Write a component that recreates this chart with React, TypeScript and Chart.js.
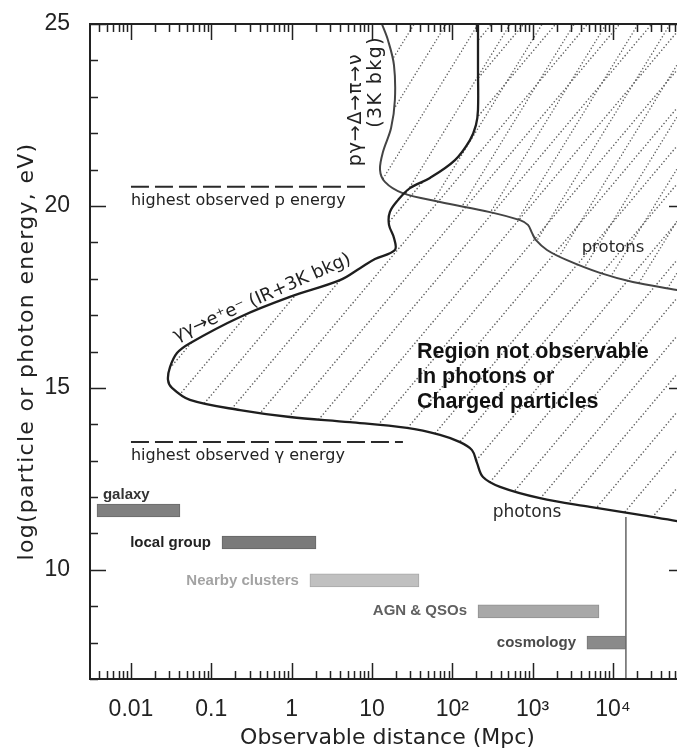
import { useEffect, useRef } from 'react';
import { Chart, registerables } from 'chart.js';

Chart.register(...registerables);

// ---------- axes ----------
const X_MIN = 0.00309;
const X_MAX = 78900;
const Y_MIN = 7;
const Y_MAX = 25;
const X_TICKS = [0.01, 0.1, 1, 10, 100, 1000, 10000];
const X_TICK_LABELS = ['0.01', '0.1', '1', '10', '10²', '10³', '10⁴'];
const Y_TICKS = [10, 15, 20, 25];
const X_TITLE = 'Observable distance (Mpc)';
const Y_TITLE = 'log(particle or photon energy, eV)';

// ---------- γγ → e+e− horizon (photons) ----------
const PHOTON_X = [209, 209, 209, 197, 166, 108, 52.7, 29.7, 21.1, 16.7, 16.3, 18.8, 19.3, 10.9, 7.1, 4.0, 0.95, 0.228, 0.0542, 0.0374, 0.0306, 0.0289, 0.0324, 0.0542, 0.228, 0.953, 5.32, 27.3, 70.3, 125, 176, 203, 241, 393, 1236, 5180, 21700, 62700, 78900];
const PHOTON_Y = [25, 23.74, 22.64, 22.22, 21.81, 21.26, 20.77, 20.49, 20.16, 19.83, 19.48, 19.12, 18.79, 18.54, 18.29, 17.96, 17.5, 16.95, 16.23, 15.96, 15.57, 15.22, 15.0, 14.67, 14.39, 14.2, 14.06, 13.9, 13.71, 13.51, 13.29, 12.94, 12.55, 12.28, 11.97, 11.73, 11.51, 11.34, 11.32];

// ---------- pγ → Δ → π → ν horizon (protons) ----------
const PROTON_X = [13.3, 15.8, 18.8, 19.3, 17.3, 13.7, 12.6, 14.5, 23.7, 70.3, 294, 697, 875, 982, 1102, 1510, 2680, 6890, 17700, 62700, 78900];
const PROTON_Y = [25, 24.56, 23.87, 22.91, 22.14, 21.48, 20.99, 20.66, 20.36, 20.11, 19.83, 19.61, 19.48, 19.26, 19.06, 18.79, 18.51, 18.16, 17.91, 17.69, 17.64];

// ---------- highest observed energies ----------
const P_MAX_X = [0.01, 8.2];
const P_MAX_Y = 20.53;
const G_MAX_X = [0.01, 24.3];
const G_MAX_Y = 13.51;

// ---------- Hubble distance marker ----------
const HUBBLE_X = 14500;
const HUBBLE_Y = [7, 11.45];

// ---------- distance ranges ----------
const BAR_NAMES = ['galaxy', 'local group', 'Nearby clusters', 'AGN & QSOs', 'cosmology'];
const BAR_START = [0.00378, 0.136, 1.69, 209, 4750];
const BAR_END = [0.0407, 2.01, 38.5, 6700, 14500];
const BAR_Y = [11.63, 10.75, 9.71, 8.86, 8.0];
const BAR_COLORS = ['#808080', '#7a7a7a', '#c0c0c0', '#a8a8a8', '#8a8a8a'];
const BAR_EDGES = ['#6a6a6a', '#666666', '#a8a8a8', '#909090', '#767676'];
const BAR_LABEL_COLORS = ['#333333', '#222222', '#a3a3a3', '#606060', '#4a4a4a'];
const GALAXY_LABEL_X = 0.00448;
const GALAXY_LABEL_Y = 12.06;

// ---------- annotations ----------
const NOTE_TEXT = ['highest observed p energy', 'highest observed γ energy', 'protons', 'photons', 'pγ→Δ→π→ν', '(3K bkg)', 'γγ→e⁺e⁻ (IR+3K bkg)'];
const NOTE_X = [0.01, 0.01, 10000, 851, 6.3, 11.2, 0.428];
const NOTE_Y = [20.14, 13.13, 18.86, 11.56, 22.64, 23.41, 17.48];
const REGION_LINES = ['Region not observable', 'In photons or', 'Charged particles'];
const REGION_X = 36.3;
const REGION_Y = 15.99;

const DJ = '"DejaVu Sans", sans-serif';
const LIB = '"Liberation Sans", Arial, sans-serif';

function makeHatch(w: number, h: number, n: number, color: string, shift: number) {
  const c = document.createElement('canvas');
  c.width = w;
  c.height = h;
  const g = c.getContext('2d')!;
  g.fillStyle = color;
  for (let i = 0; i < n; i++) {
    const t = (i + shift) / n;
    const x = t * w;
    const y = h - t * h;
    g.beginPath();
    g.arc(x, y, 0.8, 0, Math.PI * 2);
    g.fill();
  }
  return c;
}

function tracePts(ctx: CanvasRenderingContext2D, pts: any[]) {
  ctx.moveTo(pts[0].x, pts[0].y);
  for (let i = 1; i < pts.length; i++) {
    const p = pts[i - 1];
    const q = pts[i];
    if (p.cp2x !== undefined && q.cp1x !== undefined) {
      ctx.bezierCurveTo(p.cp2x, p.cp2y, q.cp1x, q.cp1y, q.x, q.y);
    } else {
      ctx.lineTo(q.x, q.y);
    }
  }
}

function drawText(
  ctx: CanvasRenderingContext2D,
  text: string,
  x: number,
  y: number,
  font: string,
  color: string,
  align: CanvasTextAlign = 'left',
  rot = 0,
  spacing = 0
) {
  ctx.save();
  ctx.translate(x, y);
  if (rot) ctx.rotate(rot);
  ctx.font = font;
  ctx.fillStyle = color;
  ctx.textAlign = align;
  ctx.textBaseline = 'middle';
  (ctx as any).letterSpacing = spacing + 'px';
  ctx.fillText(text, 0, 0);
  ctx.restore();
}

const hatchPlugin = {
  id: 'hatch',
  beforeDatasetsDraw(chart: any) {
    const ctx: CanvasRenderingContext2D = chart.ctx;
    const a = chart.chartArea;
    const specs = [
      { idx: 0, tile: makeHatch(32, 38, 14, '#555555', 0.5) },
      { idx: 1, tile: makeHatch(32, 52, 18, '#666666', 0.25) },
    ];
    ctx.save();
    ctx.beginPath();
    ctx.rect(a.left, a.top, a.right - a.left, a.bottom - a.top);
    ctx.clip();
    for (const s of specs) {
      const pts = chart.getDatasetMeta(s.idx).data;
      if (!pts || pts.length < 2) continue;
      const pat = ctx.createPattern(s.tile, 'repeat');
      if (!pat) continue;
      if (s.idx === 1 && (pat as any).setTransform) {
        (pat as any).setTransform(new DOMMatrix().translate(13, 0));
      }
      ctx.beginPath();
      tracePts(ctx, pts);
      const first = pts[0];
      const last = pts[pts.length - 1];
      ctx.lineTo(a.right + 30, last.y);
      ctx.lineTo(a.right + 30, a.top - 30);
      ctx.lineTo(first.x, a.top - 30);
      ctx.closePath();
      ctx.fillStyle = pat;
      ctx.fill();
    }
    ctx.restore();
  },
};

const textPlugin = {
  id: 'texts',
  afterDatasetsDraw(chart: any) {
    const ctx: CanvasRenderingContext2D = chart.ctx;
    const xs = chart.scales.x;
    const ys = chart.scales.y;
    const px = (v: number) => xs.getPixelForValue(v);
    const py = (v: number) => ys.getPixelForValue(v);

    drawText(ctx, NOTE_TEXT[0], px(NOTE_X[0]), py(NOTE_Y[0]), `16px ${DJ}`, '#222');
    drawText(ctx, NOTE_TEXT[1], px(NOTE_X[1]), py(NOTE_Y[1]), `16px ${DJ}`, '#222');
    drawText(ctx, NOTE_TEXT[2], px(NOTE_X[2]), py(NOTE_Y[2]), `16.5px ${DJ}`, '#2a2a2a', 'center');
    drawText(ctx, NOTE_TEXT[3], px(NOTE_X[3]), py(NOTE_Y[3]), `17px ${DJ}`, '#2a2a2a', 'center');
    drawText(ctx, NOTE_TEXT[4], px(NOTE_X[4]), py(NOTE_Y[4]), `19px ${DJ}`, '#222', 'center', -Math.PI / 2, 0.8);
    drawText(ctx, NOTE_TEXT[5], px(NOTE_X[5]), py(NOTE_Y[5]), `19px ${DJ}`, '#222', 'center', -Math.PI / 2, 1.4);
    drawText(ctx, NOTE_TEXT[6], px(NOTE_X[6]), py(NOTE_Y[6]), `18px ${DJ}`, '#222', 'center', (-24 * Math.PI) / 180);

    REGION_LINES.forEach((t, i) => {
      drawText(ctx, t, px(REGION_X), py(REGION_Y) + i * 25, `bold 21.5px ${LIB}`, '#111');
    });

    drawText(ctx, BAR_NAMES[0], px(GALAXY_LABEL_X), py(GALAXY_LABEL_Y), `bold 15px ${LIB}`, BAR_LABEL_COLORS[0]);
    for (let i = 1; i < BAR_NAMES.length; i++) {
      drawText(ctx, BAR_NAMES[i], px(BAR_START[i]) - 11, py(BAR_Y[i]), `bold 15px ${LIB}`, BAR_LABEL_COLORS[i], 'right');
    }
  },
};

const framePlugin = {
  id: 'frame',
  afterDraw(chart: any) {
    const ctx: CanvasRenderingContext2D = chart.ctx;
    const xs = chart.scales.x;
    const ys = chart.scales.y;
    const { left, right, top, bottom } = chart.chartArea;
    ctx.save();
    ctx.strokeStyle = '#222';
    ctx.lineWidth = 1.5;
    ctx.beginPath();
    for (let d = -3; d <= 5; d++) {
      for (let k = 1; k <= 9; k++) {
        const v = k * Math.pow(10, d);
        if (v < X_MIN || v > X_MAX) continue;
        const x = Math.round(xs.getPixelForValue(v)) + 0.5;
        const len = k === 1 ? 16 : 8;
        ctx.moveTo(x, bottom);
        ctx.lineTo(x, bottom - len);
        ctx.moveTo(x, top);
        ctx.lineTo(x, top + len);
      }
    }
    for (let v = Y_MIN; v <= Y_MAX; v++) {
      const y = Math.round(ys.getPixelForValue(v)) + 0.5;
      const len = v % 5 === 0 ? 16 : 8;
      ctx.moveTo(left, y);
      ctx.lineTo(left + len, y);
      ctx.moveTo(right, y);
      ctx.lineTo(right - len, y);
    }
    ctx.stroke();
    ctx.lineWidth = 2;
    ctx.strokeRect(left, top, right - left, bottom - top);
    ctx.restore();

    drawText(ctx, Y_TITLE, 27, (top + bottom) / 2, `22px ${DJ}`, '#222', 'center', -Math.PI / 2, 1.3);
  },
};

export default function App() {
  const ref = useRef<HTMLCanvasElement>(null);

  useEffect(() => {
    if (!ref.current) return;
    const line = (xs: number[], ys: number[], color: string, width: number, tension: number, dash: number[] = []) => ({
      type: 'line' as const,
      data: xs.map((x, i) => ({ x, y: ys[i] })),
      borderColor: color,
      borderWidth: width,
      borderDash: dash,
      pointRadius: 0,
      tension,
      fill: false,
    });

    const chart = new Chart(ref.current, {
      type: 'line',
      data: {
        datasets: [
          line(PHOTON_X, PHOTON_Y, '#1e1e1e', 2.3, 0.35) as any,
          line(PROTON_X, PROTON_Y, '#444444', 2, 0.35) as any,
          line(P_MAX_X, [P_MAX_Y, P_MAX_Y], '#2a2a2a', 2, 0, [18, 6]) as any,
          line(G_MAX_X, [G_MAX_Y, G_MAX_Y], '#2a2a2a', 2, 0, [18, 6]) as any,
          line([HUBBLE_X, HUBBLE_X], HUBBLE_Y, '#6e6e6e', 1.6, 0) as any,
          {
            type: 'bar',
            indexAxis: 'y',
            data: BAR_Y.map((y, i) => ({ x: [BAR_START[i], BAR_END[i]], y })),
            backgroundColor: BAR_COLORS,
            borderColor: BAR_EDGES,
            borderWidth: 1,
            borderSkipped: false,
            barThickness: 13,
            grouped: false,
          } as any,
        ],
      },
      options: {
        responsive: true,
        maintainAspectRatio: false,
        animation: false,
        events: [],
        layout: { padding: { top: 24, right: 15, bottom: 0, left: 0 } },
        plugins: { legend: { display: false }, tooltip: { enabled: false } },
        scales: {
          x: {
            type: 'logarithmic',
            min: X_MIN,
            max: X_MAX,
            offset: false,
            beginAtZero: false,
            grid: { display: false, offset: false },
            border: { display: false },
            afterBuildTicks: (s: any) => {
              s.ticks = X_TICKS.map((v) => ({ value: v }));
            },
            afterFit: (s: any) => {
              s.height = 72;
              s.paddingLeft = 0;
              s.paddingRight = 0;
            },
            ticks: {
              autoSkip: false,
              maxRotation: 0,
              padding: 9,
              color: '#222',
              font: { family: LIB, size: 23 },
              callback: (_v: any, i: number) => X_TICK_LABELS[i] ?? '',
            },
            title: {
              display: true,
              text: X_TITLE,
              color: '#222',
              font: { family: DJ, size: 22 },
              padding: { top: 0, bottom: 0 },
            },
          },
          y: {
            type: 'linear',
            min: Y_MIN,
            max: Y_MAX,
            offset: false,
            grid: { display: false, offset: false },
            border: { display: false },
            afterBuildTicks: (s: any) => {
              s.ticks = Y_TICKS.map((v) => ({ value: v }));
            },
            afterFit: (s: any) => {
              s.width = 90;
              s.paddingTop = 0;
              s.paddingBottom = 0;
            },
            ticks: {
              padding: 12,
              color: '#222',
              font: { family: LIB, size: 23, lineHeight: 0.8 },
            },
          },
        },
      } as any,
      plugins: [hatchPlugin, textPlugin, framePlugin],
    });
    return () => chart.destroy();
  }, []);

  return (
    <div style={{ position: 'fixed', left: 0, top: 0, width: 677, height: 751, overflow: 'hidden', background: '#fff' }}>
      <div style={{ position: 'relative', width: 700, height: 751 }}>
        <canvas ref={ref} />
      </div>
    </div>
  );
}
